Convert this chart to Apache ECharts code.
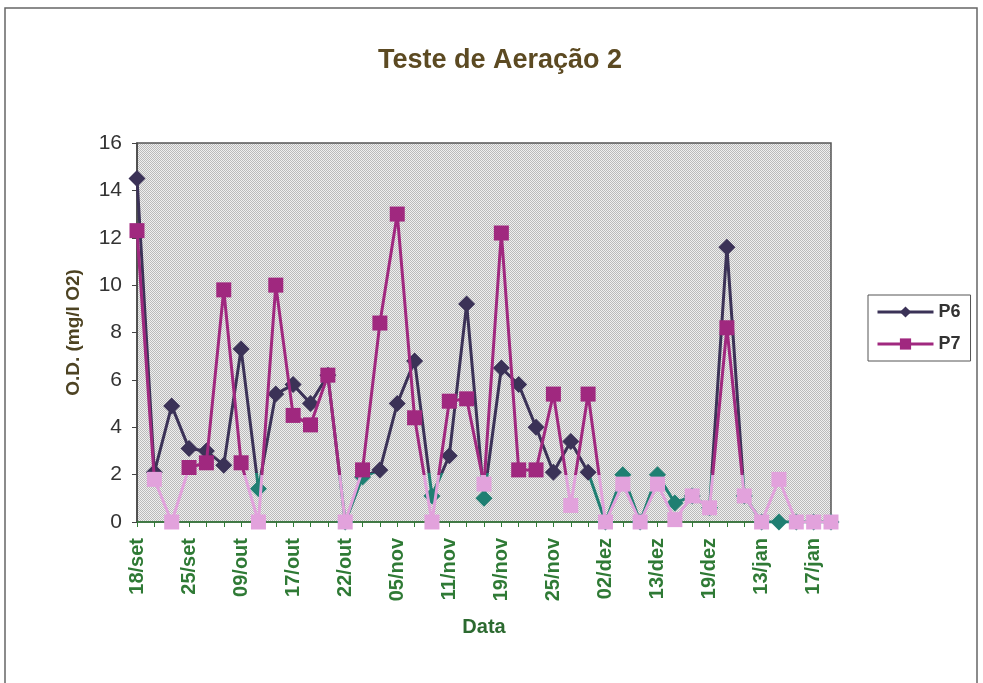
<!DOCTYPE html>
<html>
<head>
<meta charset="utf-8">
<title>Teste de Aeração 2</title>
<script src="https://cdn.jsdelivr.net/npm/echarts@6/dist/echarts.min.js"></script>
<style>
  html, body { margin: 0; padding: 0; background: #fff; }
  #chart { width: 983px; height: 683px; }
</style>
</head>
<body>
<div id="chart"></div>
<script>
// Sampling dates (only every third date is labelled on the axis)
const dateLabels = ['18/set', '25/set', '09/out', '17/out', '22/out', '05/nov', '11/nov',
                    '19/nov', '25/nov', '02/dez', '13/dez', '19/dez', '13/jan', '17/jan'];
const sampleCount = 41;

// Dissolved oxygen, mg/l O2
const p6 = [14.5, 2.1, 4.9, 3.1, 3.0, 2.4, 7.3, 1.4, 5.4, 5.8, 5.0, 6.2, 0, 1.9, 2.2, 5.0, 6.8,
            1.1, 2.8, 9.2, 1.0, 6.5, 5.8, 4.0, 2.1, 3.4, 2.1, 0, 2.0, 0, 2.0, 0.8, 1.1, 0.6,
            11.6, 1.1, 0, 0, 0, 0, 0];
const p7 = [12.3, 1.8, 0, 2.3, 2.5, 9.8, 2.5, 0, 10.0, 4.5, 4.1, 6.2, 0, 2.2, 8.4, 13.0, 4.4,
            0, 5.1, 5.2, 1.6, 12.2, 2.2, 2.2, 5.4, 0.7, 5.4, 0, 1.6, 0, 1.6, 0.1, 1.1, 0.6,
            8.2, 1.1, 0, 1.8, 0, 0, 0];

const yTicks = [0, 2, 4, 6, 8, 10, 12, 14, 16];

const categories = [];
for (let i = 0; i < sampleCount; i++) {
  categories.push(i % 3 === 0 ? dateLabels[i / 3] : '');
}

const FONT = "'Liberation Sans', Arial, sans-serif";
const C_P6 = '#3b3257';
const C_P6_LOW = '#1f7f72';
const C_P7 = '#a0287f';
const C_P7_LOW = '#e2a2dc';
const C_GREEN = '#2f7a35';

// stippled plot-area fill
const tile = document.createElement('canvas');
tile.width = 2; tile.height = 2;
const tctx = tile.getContext('2d');
tctx.fillStyle = '#efefef'; tctx.fillRect(0, 0, 2, 2);
tctx.fillStyle = '#bababa'; tctx.fillRect(0, 0, 1, 1); tctx.fillRect(1, 1, 1, 1);

const chart = echarts.init(document.getElementById('chart'), null, { renderer: 'canvas' });

chart.setOption({
  backgroundColor: '#ffffff',
  animation: false,
  textStyle: { fontFamily: FONT },
  graphic: [{
    type: 'rect',
    shape: { x: 5, y: 8, width: 972, height: 700 },
    style: { fill: 'none', stroke: '#666', lineWidth: 1.5 },
    z: -1
  }],
  title: {
    text: 'Teste de Aeração 2',
    left: 373,
    top: 42,
    textStyle: { fontFamily: FONT, fontSize: 27, fontWeight: 'bold', color: '#5c4a22' }
  },
  legend: {
    orient: 'vertical',
    left: 868,
    top: 295,
    padding: [8, 10, 8, 8],
    itemGap: 14,
    itemWidth: 56,
    itemHeight: 14,
    borderColor: '#555',
    borderWidth: 1,
    textStyle: { fontFamily: FONT, fontSize: 18, fontWeight: 'bold', color: '#333' },
    data: [
      { name: 'P6', itemStyle: { color: C_P6 }, lineStyle: { color: C_P6, width: 3 } },
      { name: 'P7', itemStyle: { color: C_P7 }, lineStyle: { color: C_P7, width: 3 } }
    ]
  },
  grid: {
    left: 137,
    right: 152,
    top: 143,
    bottom: 161,
    show: true,
    backgroundColor: { image: tile, repeat: 'repeat' },
    borderColor: '#555',
    borderWidth: 1.5
  },
  xAxis: {
    type: 'category',
    data: categories,
    boundaryGap: false,
    name: 'Data',
    nameLocation: 'middle',
    nameGap: 95,
    nameTextStyle: { fontFamily: FONT, fontSize: 20, fontWeight: 'bold', color: '#2c6a30' },
    axisLine: { lineStyle: { color: C_GREEN, width: 1.5 } },
    axisTick: { interval: 0, length: 5, lineStyle: { color: C_GREEN } },
    axisLabel: {
      interval: 0,
      rotate: 90,
      margin: 16,
      fontFamily: FONT,
      fontSize: 20,
      fontWeight: 'bold',
      color: C_GREEN
    },
    splitLine: { show: false }
  },
  yAxis: {
    type: 'value',
    min: yTicks[0],
    max: yTicks[yTicks.length - 1],
    interval: yTicks[1] - yTicks[0],
    name: 'O.D. (mg/l O2)',
    nameLocation: 'middle',
    nameGap: 54,
    nameRotate: 90,
    nameTextStyle: { fontFamily: FONT, fontSize: 19, fontWeight: 'bold', color: '#4d4322' },
    axisLine: { show: true, lineStyle: { color: '#444', width: 1.5 } },
    axisTick: { show: true, length: 5, lineStyle: { color: '#444' } },
    axisLabel: { fontFamily: FONT, fontSize: 21, color: '#333', margin: 15 },
    splitLine: { show: false }
  },
  visualMap: [
    {
      type: 'piecewise', show: false, seriesIndex: 0, dimension: 1,
      pieces: [
        { gte: -100, lt: 2.05, color: C_P6_LOW },
        { gte: 2.05, lte: 100, color: C_P6 }
      ]
    },
    {
      type: 'piecewise', show: false, seriesIndex: 1, dimension: 1,
      pieces: [
        { gte: -100, lt: 2.0, color: C_P7_LOW },
        { gte: 2.0, lte: 100, color: C_P7 }
      ]
    }
  ],
  series: [
    {
      name: 'P6',
      type: 'line',
      data: p6,
      symbol: 'diamond',
      symbolSize: 17,
      lineStyle: { width: 3 },
      z: 3
    },
    {
      name: 'P7',
      type: 'line',
      data: p7,
      symbol: 'rect',
      symbolSize: 15,
      lineStyle: { width: 3 },
      z: 4
    }
  ]
});
</script>
</body>
</html>
